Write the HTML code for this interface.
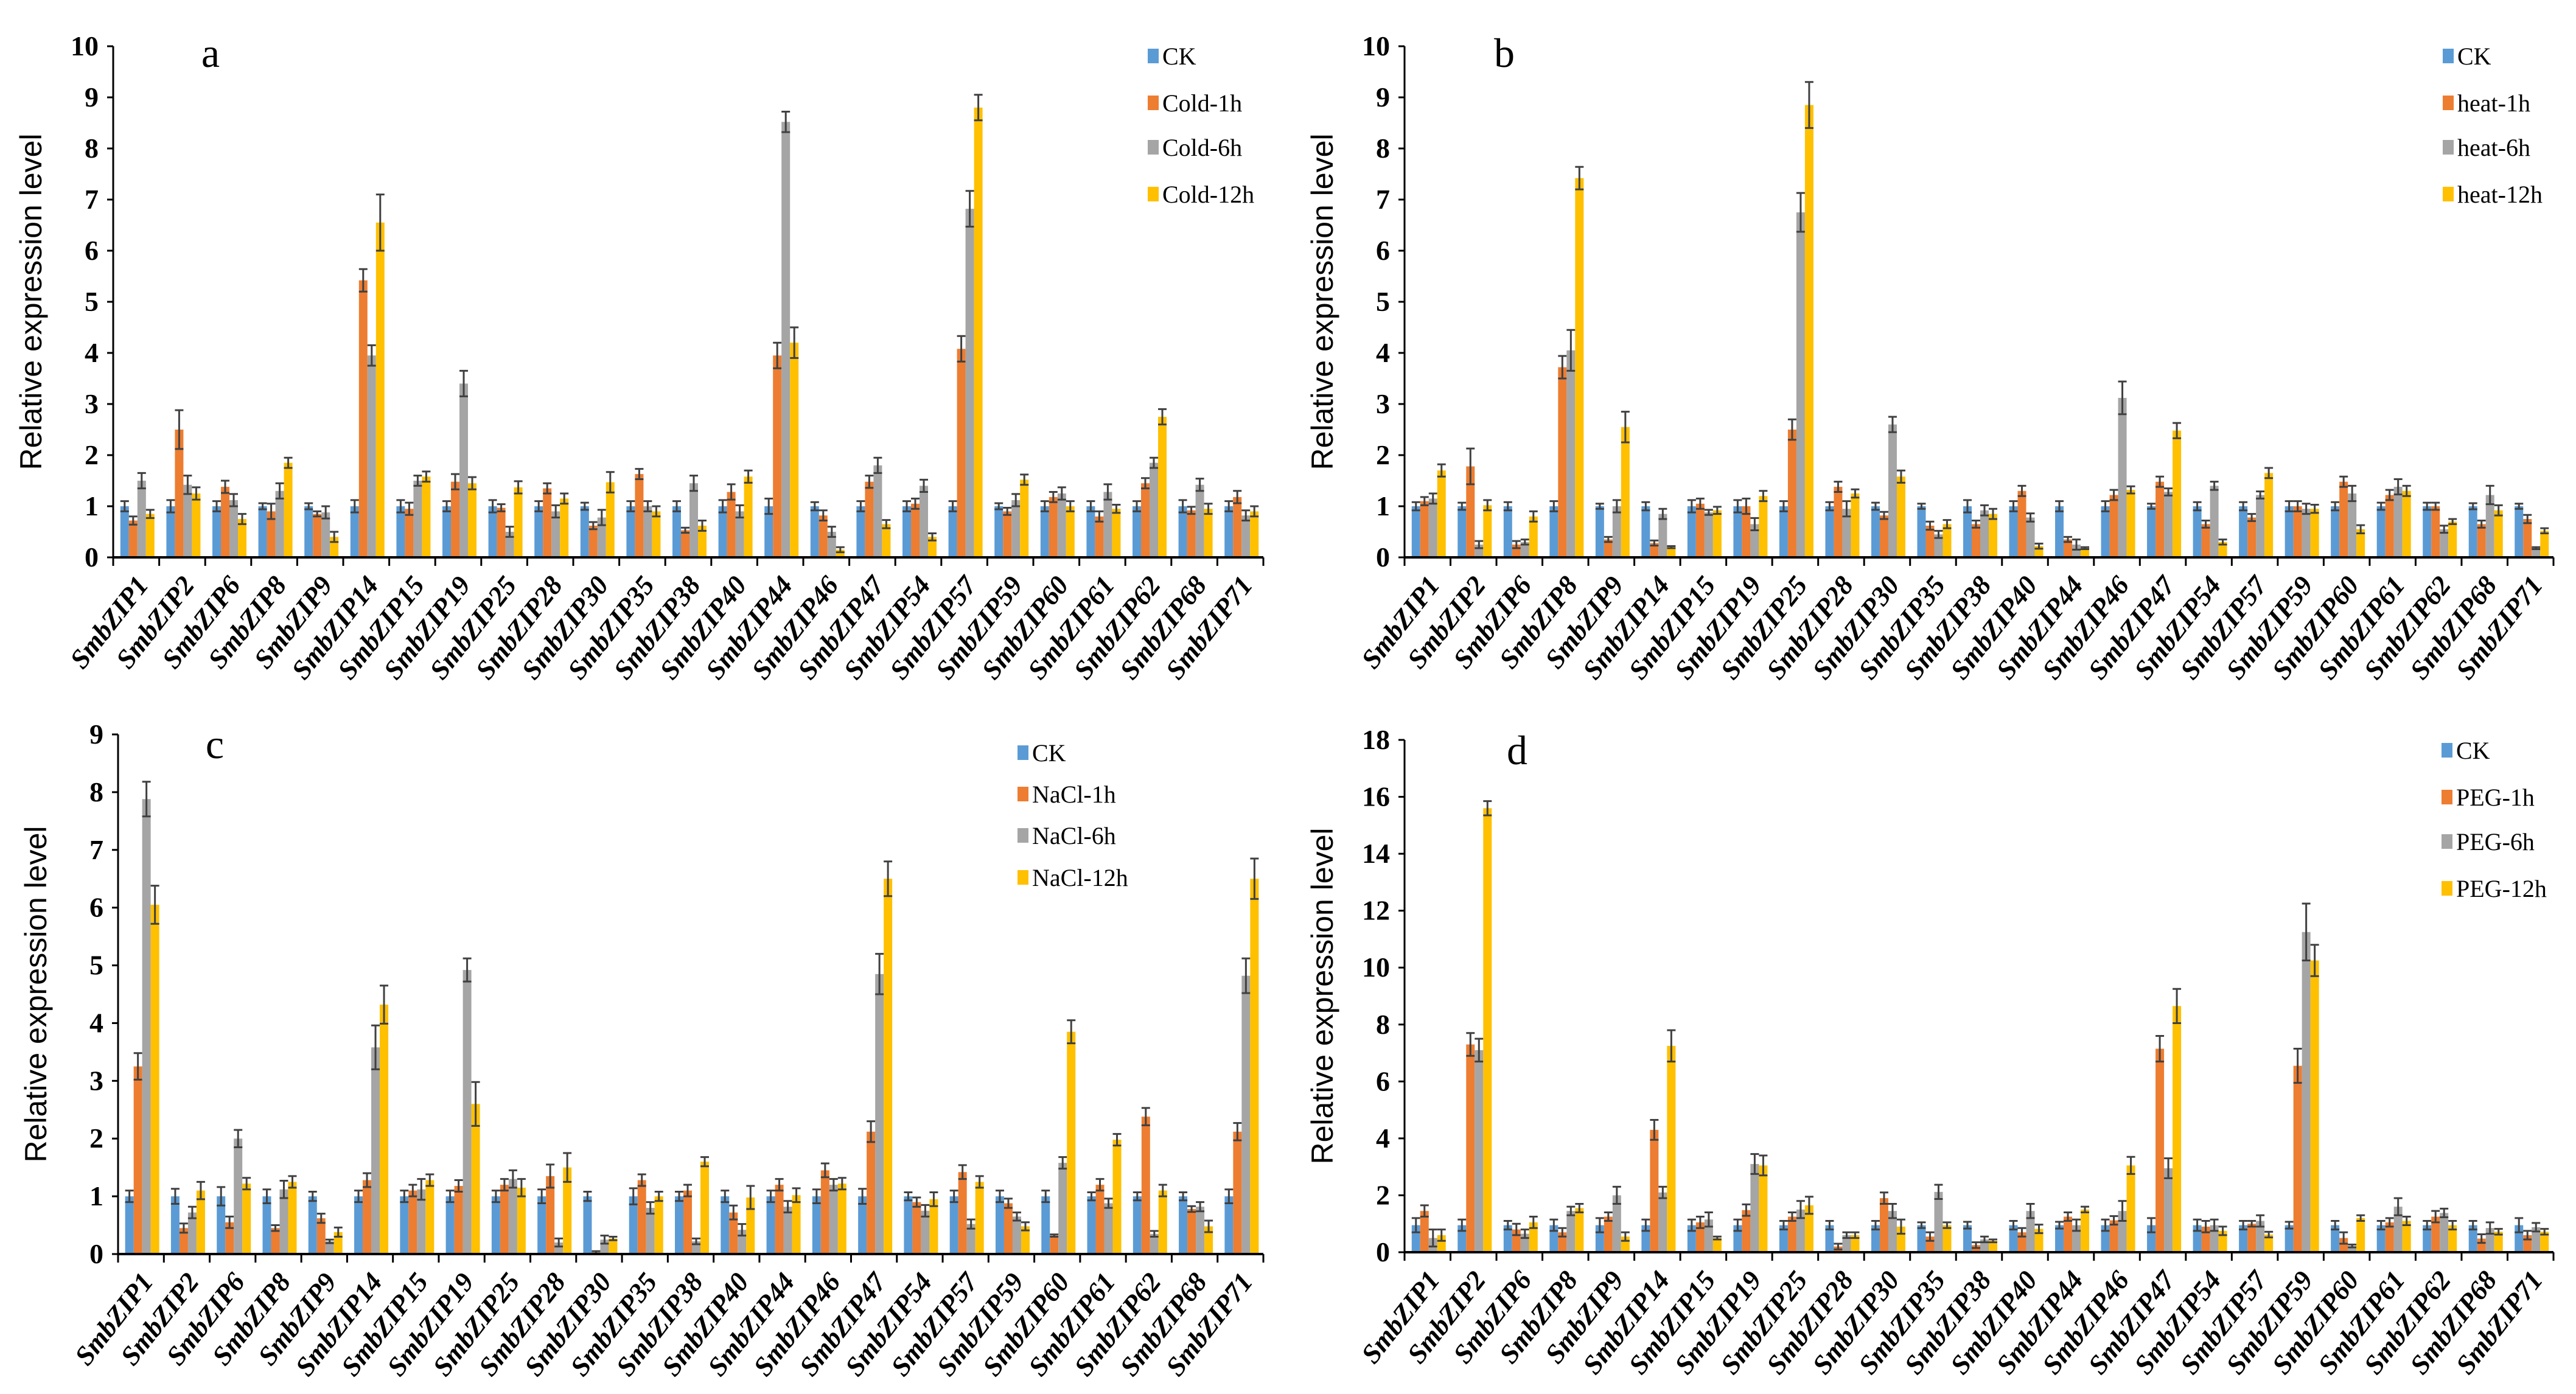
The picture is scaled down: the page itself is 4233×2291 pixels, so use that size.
<!DOCTYPE html>
<html><head><meta charset="utf-8"><style>
html,body{margin:0;padding:0;background:#fff;}
svg{display:block;}
</style></head><body>
<svg id="fig" xmlns="http://www.w3.org/2000/svg" width="4233" height="2291" viewBox="0 0 4233 2291"></svg>
<script>
const categories = ["SmbZIP1","SmbZIP2","SmbZIP6","SmbZIP8","SmbZIP9","SmbZIP14","SmbZIP15","SmbZIP19","SmbZIP25","SmbZIP28","SmbZIP30","SmbZIP35","SmbZIP38","SmbZIP40","SmbZIP44","SmbZIP46","SmbZIP47","SmbZIP54","SmbZIP57","SmbZIP59","SmbZIP60","SmbZIP61","SmbZIP62","SmbZIP68","SmbZIP71"];

// Panel a (cold)
const aCK   = [1,1,1,1,1,1,1,1,1,1,1,1,1,1,1,1,1,1,1,1,1,1,1,1,1];
const a1h   = [0.72,2.5,1.38,0.9,0.85,5.42,0.95,1.48,0.97,1.35,0.62,1.63,0.53,1.28,3.95,0.82,1.48,1.05,4.08,0.9,1.18,0.8,1.45,0.92,1.18];
const a6h   = [1.5,1.42,1.12,1.3,0.88,3.95,1.5,3.4,0.5,0.9,0.78,1.0,1.45,0.9,8.52,0.5,1.8,1.4,6.82,1.12,1.25,1.28,1.85,1.42,0.82];
const a12h  = [0.85,1.25,0.75,1.85,0.4,6.55,1.58,1.45,1.37,1.15,1.47,0.9,0.62,1.58,4.2,0.15,0.65,0.4,8.8,1.52,1.0,0.95,2.75,0.95,0.9];
const aCKe  = [0.1,0.12,0.1,0.06,0.06,0.12,0.12,0.1,0.12,0.1,0.07,0.1,0.1,0.12,0.15,0.08,0.1,0.1,0.1,0.06,0.1,0.1,0.1,0.12,0.1];
const a1he  = [0.08,0.38,0.12,0.15,0.05,0.22,0.12,0.15,0.07,0.1,0.07,0.1,0.05,0.15,0.25,0.1,0.12,0.1,0.25,0.07,0.1,0.1,0.1,0.07,0.12];
const a6he  = [0.15,0.18,0.12,0.15,0.12,0.2,0.1,0.25,0.1,0.12,0.15,0.1,0.15,0.12,0.2,0.1,0.15,0.12,0.35,0.12,0.12,0.15,0.1,0.12,0.1];
const a12he = [0.08,0.12,0.1,0.1,0.1,0.55,0.1,0.12,0.12,0.1,0.2,0.1,0.1,0.12,0.3,0.05,0.08,0.07,0.25,0.1,0.1,0.08,0.15,0.1,0.1];

// Panel b (heat)
const bCK   = [1,1,1,1,1,1,1,1,1,1,1,1,1,1,1,1,1,1,1,1,1,1,1,1,1];
const b1h   = [1.1,1.78,0.25,3.72,0.35,0.28,1.05,1.0,2.5,1.38,0.82,0.62,0.65,1.3,0.35,1.22,1.48,0.65,0.78,1.0,1.48,1.22,1.0,0.65,0.75];
const b6h   = [1.15,0.25,0.3,4.05,1.0,0.85,0.88,0.65,6.75,0.95,2.6,0.45,0.92,0.78,0.25,3.12,1.28,1.4,1.22,0.95,1.25,1.38,0.55,1.22,0.18];
const b12h  = [1.7,1.02,0.8,7.42,2.55,0.2,0.92,1.2,8.85,1.25,1.58,0.65,0.85,0.22,0.18,1.32,2.48,0.3,1.65,0.95,0.55,1.3,0.7,0.92,0.52];
const bCKe  = [0.08,0.07,0.08,0.1,0.05,0.08,0.12,0.12,0.1,0.08,0.07,0.05,0.12,0.1,0.1,0.1,0.05,0.08,0.08,0.1,0.08,0.07,0.07,0.06,0.05];
const b1he  = [0.08,0.35,0.07,0.22,0.05,0.05,0.1,0.15,0.2,0.1,0.07,0.08,0.07,0.1,0.05,0.1,0.1,0.07,0.07,0.1,0.1,0.1,0.07,0.07,0.08];
const b6he  = [0.1,0.07,0.05,0.4,0.12,0.1,0.05,0.12,0.38,0.15,0.15,0.07,0.1,0.08,0.1,0.32,0.07,0.08,0.07,0.1,0.15,0.15,0.07,0.18,0.02];
const b12he = [0.12,0.1,0.1,0.22,0.3,0.02,0.07,0.1,0.45,0.08,0.12,0.08,0.1,0.05,0.02,0.07,0.15,0.05,0.1,0.08,0.08,0.1,0.05,0.1,0.05];

// Panel c (NaCl)
const cCK   = [1,1,1,1,1,1,1,1,1,1,1,1,1,1,1,1,1,1,1,1,1,1,1,1,1];
const c1h   = [3.25,0.45,0.55,0.45,0.62,1.28,1.1,1.18,1.2,1.35,0.03,1.28,1.1,0.72,1.2,1.45,2.12,0.9,1.42,0.88,0.32,1.2,2.38,0.78,2.12];
const c6h   = [7.88,0.72,2.0,1.12,0.22,3.58,1.12,4.92,1.3,0.2,0.25,0.8,0.22,0.42,0.82,1.2,4.85,0.75,0.52,0.65,1.58,0.88,0.35,0.82,4.82];
const c12h  = [6.05,1.1,1.22,1.25,0.38,4.32,1.28,2.6,1.15,1.5,0.27,1.0,1.6,0.98,1.02,1.22,6.5,0.95,1.25,0.48,3.85,1.98,1.1,0.48,6.5];
const cCKe  = [0.1,0.13,0.16,0.12,0.08,0.1,0.1,0.1,0.1,0.12,0.08,0.14,0.08,0.1,0.1,0.12,0.13,0.07,0.1,0.1,0.1,0.07,0.07,0.07,0.12];
const c1he  = [0.23,0.08,0.1,0.05,0.08,0.12,0.1,0.1,0.1,0.2,0.02,0.1,0.1,0.12,0.1,0.12,0.18,0.08,0.12,0.08,0.02,0.1,0.15,0.05,0.15];
const c6he  = [0.3,0.1,0.15,0.15,0.03,0.38,0.18,0.2,0.15,0.07,0.07,0.1,0.05,0.1,0.1,0.1,0.35,0.1,0.08,0.07,0.1,0.08,0.05,0.08,0.3];
const c12he = [0.33,0.15,0.1,0.1,0.08,0.33,0.1,0.38,0.15,0.25,0.03,0.08,0.08,0.2,0.12,0.1,0.3,0.12,0.1,0.07,0.2,0.1,0.1,0.1,0.35];

// Panel d (PEG)
const dCK   = [0.95,0.95,0.95,0.95,0.95,0.95,0.95,0.95,0.95,0.95,0.95,0.95,0.95,0.95,0.95,0.95,0.95,0.95,0.95,0.95,0.95,0.95,0.95,0.95,0.95];
const d1h   = [1.45,7.3,0.8,0.7,1.25,4.3,1.05,1.48,1.25,0.2,1.9,0.55,0.25,0.7,1.25,1.12,7.15,0.9,1.0,6.55,0.5,1.05,1.25,0.48,0.6];
const d6h   = [0.5,7.1,0.65,1.45,2.0,2.1,1.15,3.1,1.5,0.6,1.45,2.12,0.45,1.45,0.95,1.45,2.95,0.95,1.1,11.25,0.22,1.6,1.38,0.85,0.88];
const d12h  = [0.6,15.6,1.05,1.55,0.55,7.25,0.5,3.05,1.65,0.6,0.9,0.95,0.4,0.82,1.5,3.05,8.65,0.75,0.62,10.25,1.2,1.1,0.95,0.72,0.72];
const dCKe  = [0.25,0.2,0.15,0.2,0.25,0.2,0.2,0.2,0.15,0.15,0.15,0.1,0.12,0.15,0.12,0.2,0.25,0.2,0.15,0.12,0.15,0.15,0.15,0.15,0.25];
const d1he  = [0.2,0.4,0.2,0.15,0.15,0.35,0.2,0.2,0.15,0.1,0.2,0.15,0.1,0.15,0.15,0.15,0.45,0.2,0.1,0.6,0.2,0.15,0.2,0.15,0.15];
const d6he  = [0.3,0.4,0.15,0.15,0.3,0.2,0.25,0.35,0.3,0.1,0.25,0.25,0.1,0.25,0.2,0.35,0.35,0.2,0.2,1.0,0.05,0.3,0.15,0.2,0.15];
const d12he = [0.2,0.25,0.2,0.15,0.15,0.55,0.05,0.35,0.3,0.1,0.25,0.1,0.05,0.15,0.1,0.3,0.6,0.15,0.1,0.55,0.1,0.15,0.15,0.1,0.1];

const aLegend = ["CK","Cold-1h","Cold-6h","Cold-12h"];
const bLegend = ["CK","heat-1h","heat-6h","heat-12h"];
const cLegend = ["CK","NaCl-1h","NaCl-6h","NaCl-12h"];
const dLegend = ["CK","PEG-1h","PEG-6h","PEG-12h"];
const aTicks = [0,1,2,3,4,5,6,7,8,9,10];
const bTicks = [0,1,2,3,4,5,6,7,8,9,10];
const cTicks = [0,1,2,3,4,5,6,7,8,9];
const dTicks = [0,2,4,6,8,10,12,14,16,18];

const colors = ["#5B9BD5","#ED7D31","#A5A5A5","#FFC000"];
const NS = "http://www.w3.org/2000/svg";
const svg = document.getElementById("fig");

function mk(tag, attrs, parent){
  const e = document.createElementNS(NS, tag);
  for (const k in attrs) e.setAttribute(k, attrs[k]);
  (parent||svg).appendChild(e);
  return e;
}

const panels = [
  {id:"a", x0:186, x1:2076, yTop:76, y0:916, ticks:aTicks, series:[aCK,a1h,a6h,a12h], errs:[aCKe,a1he,a6he,a12he], legend:aLegend, lx:1886, ly:[92,169,242,319], tx:346, ty:110},
  {id:"b", x0:2308, x1:4196, yTop:76, y0:916, ticks:bTicks, series:[bCK,b1h,b6h,b12h], errs:[bCKe,b1he,b6he,b12he], legend:bLegend, lx:4014, ly:[92,169,242,319], tx:2472, ty:110},
  {id:"c", x0:194, x1:2076, yTop:1207, y0:2061, ticks:cTicks, series:[cCK,c1h,c6h,c12h], errs:[cCKe,c1he,c6he,c12he], legend:cLegend, lx:1672, ly:[1237,1305,1373,1442], tx:353, ty:1246},
  {id:"d", x0:2308, x1:4196, yTop:1216, y0:2058, ticks:dTicks, series:[dCK,d1h,d6h,d12h], errs:[dCKe,d1he,d6he,d12he], legend:dLegend, lx:4012, ly:[1233,1310,1383,1460], tx:2493, ty:1256}
];

panels.forEach(p => {
  const g = mk("g", {});
  
  
  const tmax = p.ticks[p.ticks.length-1];
  const yScale = v => p.y0 - (v / tmax) * (p.y0 - p.yTop);
  const n = categories.length;
  const gw = (p.x1 - p.x0) / n;
  const xCenter = i => p.x0 + gw * (i + 0.5);
  const bw = 14;

  p.ticks.forEach(t => {
    const y = yScale(t);
    const tl = mk("line", {x1:p.x0-10, x2:p.x0, y1:y, y2:y, stroke:"#000", "stroke-width":3}, g);
    
    
    const tx = mk("text", {x:p.x0-24, y:y+15, "text-anchor":"end", "font-family":"Liberation Serif, serif", "font-size":46, "font-weight":"bold"}, g);
    
    
    tx.textContent = t;
  });

  p.series.forEach((s, si) => {
    s.forEach((v, i) => {
      const x = xCenter(i) - 26 + si * bw;
      const y = yScale(v);
      const r = mk("rect", {x:x, y:y, width:bw, height:p.y0 - y, fill:colors[si]}, g);
      
      
      const e = p.errs[si][i];
      const cx = x + bw/2;
      const yt = yScale(v + e), yb = yScale(Math.max(0, v - e));
      const eb = mk("path", {d:`M${cx},${yb}V${yt}M${cx-7},${yt}H${cx+7}M${cx-7},${yb}H${cx+7}`, stroke:"#404040", "stroke-width":3, fill:"none"}, g);
      
      
    });
  });

  const ya = mk("line", {x1:p.x0, x2:p.x0, y1:p.yTop, y2:p.y0, stroke:"#000", "stroke-width":3}, g);
  
  
  const xa = mk("line", {x1:p.x0, x2:p.x1, y1:p.y0, y2:p.y0, stroke:"#000", "stroke-width":4}, g);
  
  
  for (let i = 0; i <= n; i++) {
    const x = p.x0 + gw * i;
    const xt = mk("line", {x1:x, x2:x, y1:p.y0, y2:p.y0+14, stroke:"#000", "stroke-width":3}, g);
    
    
  }
  categories.forEach((c, i) => {
    const lx = xCenter(i) + 22, ly = p.y0 + 46;
    const t = mk("text", {x:lx, y:ly, "text-anchor":"end", transform:`rotate(-52 ${lx} ${ly})`, "font-family":"Liberation Serif, serif", "font-size":45, "font-weight":"bold", "font-style":"italic"}, g);
    
    
    t.textContent = c;
  });

  const yc = (p.yTop + p.y0) / 2;
  const yt = mk("text", {x:p.x0-118, y:yc, "text-anchor":"middle", transform:`rotate(-90 ${p.x0-118} ${yc})`, "font-family":"Liberation Sans, sans-serif", "font-size":50}, g);
  
  
  yt.textContent = "Relative expression level";

  const pl = mk("text", {x:p.tx, y:p.ty, "text-anchor":"middle", "font-family":"Liberation Serif, serif", "font-size":68}, g);
  
  
  pl.textContent = p.id;

  p.legend.forEach((name, li) => {
    const lg = mk("g", {}, g);
    
    
    mk("rect", {x:p.lx, y:p.ly[li]-12, width:18, height:24, fill:colors[li]}, lg);
    const lt = mk("text", {x:p.lx+24, y:p.ly[li]+14, "font-family":"Liberation Serif, serif", "font-size":40}, lg);
    lt.textContent = name;
  });
});
</script>
</body></html>
